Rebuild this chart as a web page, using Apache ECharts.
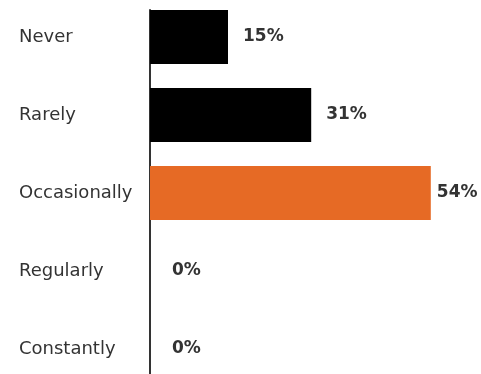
<!DOCTYPE html>
<html>
<head>
<meta charset="utf-8">
<script src="https://cdn.jsdelivr.net/npm/echarts@6/dist/echarts.min.js"></script>
<style>
  html, body { margin: 0; padding: 0; background: #fff; }
  #chart { width: 481px; height: 374px; }
</style>
</head>
<body>
<div id="chart"></div>
<script>
// Survey answer categories, top to bottom
const categories = ['Never', 'Rarely', 'Occasionally', 'Regularly', 'Constantly'];
// Share of respondents per answer (%)
const shares = [15, 31, 54, 0, 0];
// Answer highlighted in orange
const highlighted = 'Occasionally';

const textColor = '#333333';
const fontFamily = '"DejaVu Sans", sans-serif';

const chart = echarts.init(document.getElementById('chart'));

const barData = shares.map((v, i) => {
  const item = {
    value: v,
    itemStyle: { color: categories[i] === highlighted ? '#E66A25' : '#000000' }
  };
  if (v === 0) item.label = { distance: 22 };
  else if (v > 50) item.label = { distance: 6 };
  return item;
});

chart.setOption({
  animation: false,
  backgroundColor: '#ffffff',
  grid: [
    { left: 150, right: 19, top: -2, height: 390, containLabel: false, outerBoundsMode: 'none' },
    // thin grid holding only the vertical baseline
    { left: 150, width: 1, top: 10, height: 370, outerBoundsMode: 'none' }
  ],
  xAxis: [
    { type: 'value', gridIndex: 0, min: 0, max: 60, show: false },
    { type: 'value', gridIndex: 1, show: false }
  ],
  yAxis: [
    {
      type: 'category',
      gridIndex: 0,
      data: categories,
      inverse: true,
      axisLine: { show: false },
      axisTick: { show: false },
      splitLine: { show: false },
      axisLabel: {
        align: 'left',
        margin: 131,
        color: textColor,
        fontFamily: fontFamily,
        fontSize: 18
      }
    },
    {
      type: 'value',
      gridIndex: 1,
      axisLine: { show: true, lineStyle: { color: '#333333', width: 2 } },
      axisTick: { show: false },
      axisLabel: { show: false },
      splitLine: { show: false }
    }
  ],
  series: [
    {
      type: 'bar',
      xAxisIndex: 0,
      yAxisIndex: 0,
      data: barData,
      barCategoryGap: '30.8%',
      label: {
        show: true,
        position: 'right',
        distance: 15,
        formatter: '{c}%',
        color: textColor,
        fontFamily: fontFamily,
        fontWeight: 'bold',
        fontSize: 17
      }
    }
  ]
});
</script>
</body>
</html>
